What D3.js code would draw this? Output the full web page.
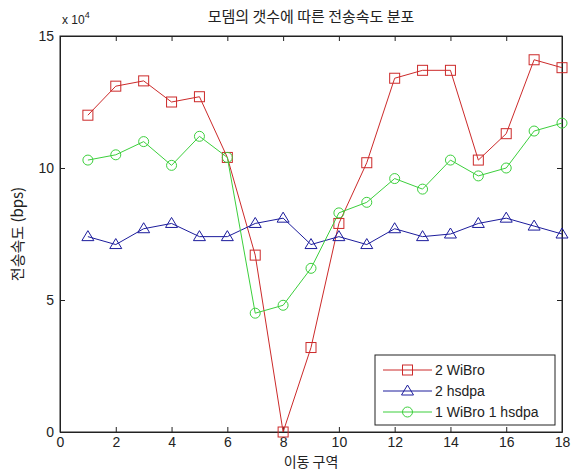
<!DOCTYPE html>
<html>
<head>
<meta charset="utf-8">
<script src="https://cdn.jsdelivr.net/npm/d3@7"></script>
<style>
  body { margin: 0; background: #fff; }
  text { font-family: "Liberation Sans", Arial, sans-serif; fill: #222; }
  .kr { font-family: "Noto Sans CJK KR", sans-serif; }
</style>
</head>
<body>
<div id="chart"></div>
<script>
// data
var zones = d3.range(1, 19);
var wibro2 = [12.0, 13.1, 13.3, 12.5, 12.7, 10.4, 6.7, 0, 3.2, 7.9, 10.2, 13.4, 13.7, 13.7, 10.3, 11.3, 14.1, 13.8];
var hsdpa2 = [7.4, 7.1, 7.7, 7.9, 7.4, 7.4, 7.9, 8.1, 7.1, 7.4, 7.1, 7.7, 7.4, 7.5, 7.9, 8.1, 7.8, 7.5];
var mixed = [10.3, 10.5, 11.0, 10.1, 11.2, 10.4, 4.5, 4.8, 6.2, 8.3, 8.7, 9.6, 9.2, 10.3, 9.7, 10.0, 11.4, 11.7];
var xTicks = [0, 2, 4, 6, 8, 10, 12, 14, 16, 18];
var yTicks = [0, 5, 10, 15];
var seriesNames = ['2 WiBro', '2 hsdpa', '1 WiBro 1 hsdpa'];

var width = 576, height = 472;
var plotL = 60, plotR = 562, plotT = 36, plotB = 432;

var svg = d3.select('#chart').append('svg')
    .attr('width', width)
    .attr('height', height);

var x = d3.scaleLinear().domain([0, 18]).range([plotL, plotR]);
var y = d3.scaleLinear().domain([0, 15]).range([plotB, plotT]);

// axes box with inward ticks on every side
svg.append('g').attr('transform', `translate(0,${plotB})`)
    .call(d3.axisBottom(x).tickValues(xTicks).tickSizeInner(-5).tickSizeOuter(0).tickPadding(5));
svg.append('g').attr('transform', `translate(0,${plotT})`)
    .call(d3.axisTop(x).tickValues(xTicks).tickSizeInner(-5).tickSizeOuter(0).tickFormat(''));
svg.append('g').attr('transform', `translate(${plotL},0)`)
    .call(d3.axisLeft(y).tickValues(yTicks).tickSizeInner(-5).tickSizeOuter(0).tickPadding(6));
svg.append('g').attr('transform', `translate(${plotR},0)`)
    .call(d3.axisRight(y).tickValues(yTicks).tickSizeInner(-5).tickSizeOuter(0).tickFormat(''));

svg.selectAll('.domain').attr('stroke', '#222');
svg.selectAll('.tick line').attr('stroke', '#222');
svg.selectAll('.tick text').style('font-size', '14px').attr('fill', '#333');

svg.append('rect')
    .attr('x', plotL).attr('y', plotT)
    .attr('width', plotR - plotL).attr('height', plotB - plotT)
    .attr('fill', 'none').attr('stroke', '#222');

// exponent label
var expo = svg.append('text').attr('x', plotL + 2).attr('y', plotT - 12).style('font-size', '12px');
expo.append('tspan').text('x 10');
expo.append('tspan').attr('dy', -6).style('font-size', '9px').text('4');

// titles
svg.append('text').attr('class', 'kr')
    .attr('x', (plotL + plotR) / 2).attr('y', 22)
    .attr('text-anchor', 'middle').style('font-size', '15px')
    .text('모뎀의 갯수에 따른 전송속도 분포');
svg.append('text').attr('class', 'kr')
    .attr('x', (plotL + plotR) / 2).attr('y', 467)
    .attr('text-anchor', 'middle').style('font-size', '14px')
    .text('이동 구역');
svg.append('text').attr('class', 'kr')
    .attr('transform', `translate(23,${(plotT + plotB) / 2}) rotate(-90)`)
    .attr('text-anchor', 'middle').style('font-size', '15px')
    .text('전송속도 (bps)');

var series = [
    {name: seriesNames[0], values: wibro2, color: '#cc2a2a', marker: 'square'},
    {name: seriesNames[1], values: hsdpa2, color: '#1c1c9c', marker: 'triangle'},
    {name: seriesNames[2], values: mixed, color: '#3ccf3c', marker: 'circle'}
];

function drawMarker(g, type, cx, cy, color) {
    if (type === 'square') {
        g.append('rect').attr('x', cx - 5).attr('y', cy - 5).attr('width', 10).attr('height', 10)
            .attr('fill', 'none').attr('stroke', color);
    } else if (type === 'triangle') {
        g.append('path').attr('d', `M${cx},${cy - 6}L${cx + 6},${cy + 4}L${cx - 6},${cy + 4}Z`)
            .attr('fill', 'none').attr('stroke', color);
    } else {
        g.append('circle').attr('cx', cx).attr('cy', cy).attr('r', 5)
            .attr('fill', 'none').attr('stroke', color);
    }
}

var line = d3.line().x((d, i) => x(zones[i])).y(d => y(d));

series.forEach(function (s) {
    var g = svg.append('g');
    g.append('path').datum(s.values).attr('d', line)
        .attr('fill', 'none').attr('stroke', s.color).attr('stroke-width', 1);
    s.values.forEach(function (v, i) {
        drawMarker(g, s.marker, x(zones[i]), y(v), s.color);
    });
});

// legend
var lg = svg.append('g').attr('transform', 'translate(375,355)');
lg.append('rect').attr('width', 180).attr('height', 70).attr('fill', '#fff').attr('stroke', '#222');
series.forEach(function (s, i) {
    var cy = 15 + i * 21;
    lg.append('line').attr('x1', 8).attr('x2', 57).attr('y1', cy).attr('y2', cy).attr('stroke', s.color);
    drawMarker(lg, s.marker, 32.5, cy, s.color);
    lg.append('text').attr('x', 60).attr('y', cy + 5).style('font-size', '14px').text(s.name);
});
</script>
</body>
</html>
